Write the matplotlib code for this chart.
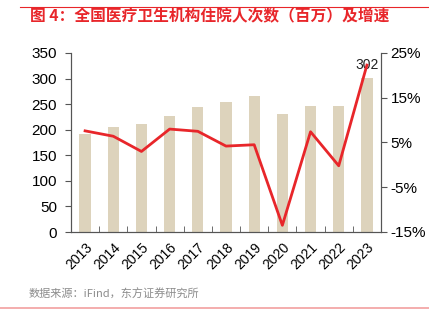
import matplotlib
matplotlib.use("Agg")
import matplotlib.pyplot as plt
from matplotlib.lines import Line2D

plt.rcParams["font.family"] = ["Liberation Sans", "Noto Sans CJK SC", "DejaVu Sans"]

# data
years = ["2013", "2014", "2015", "2016", "2017", "2018", "2019", "2020", "2021", "2022", "2023"]
inpatients = [192.2, 204.4, 210.5, 227.3, 244.4, 254.5, 266.0, 230.1, 247.3, 246.9, 301.9]
growth = [7.6, 6.4, 3.0, 8.0, 7.5, 4.2, 4.5, -13.5, 7.4, -0.2, 22.3]
left_ticks = [0, 50, 100, 150, 200, 250, 300, 350]
right_ticks = [-15, -5, 5, 15, 25]

bar_color = "#DDD3BC"
line_color = "#E8262A"

fig = plt.figure(figsize=(4.29, 3.23), dpi=100)
ax = fig.add_axes([71 / 429, 1 - 232 / 323, 310 / 429, 179 / 323])
ax2 = ax.twinx()

x = list(range(len(years)))
ax.bar(x, inpatients, width=0.4, color=bar_color, zorder=1)
ax2.plot(x, growth, color=line_color, linewidth=2, zorder=3)

# label on last bar
ax.text(x[-1], inpatients[-1] + 10, f"{round(inpatients[-1])}", ha="center", va="bottom",
        fontsize=10, color="#222222")

ax.set_xlim(-0.5, len(years) - 0.5)
ax.set_ylim(0, 350)
ax.set_yticks(left_ticks)
ax2.set_ylim(-15, 25)
ax2.set_yticks(right_ticks)
ax2.set_yticklabels([f"{t}%" for t in right_ticks])

# category labels under bars, tick marks between bars
ax.set_xticks(x)
ax.set_xticklabels(years, rotation=45, ha="right", va="top", rotation_mode="anchor", fontsize=10)
ax.set_xticks([i + 0.5 for i in x[:-1]], minor=True)
ax.tick_params(axis="x", which="major", length=0, pad=6)
ax.tick_params(axis="x", which="minor", length=4, direction="in", color="#555555")
ax.tick_params(axis="y", length=4, direction="out", labelsize=11, color="#555555", pad=6)
ax2.tick_params(axis="y", length=4, direction="out", labelsize=11, color="#555555", pad=3)

for a in (ax, ax2):
    a.spines["top"].set_visible(False)
    for s in ("left", "right", "bottom"):
        a.spines[s].set_color("#555555")
        a.spines[s].set_linewidth(0.8)
ax.set_zorder(ax2.get_zorder() - 1)
ax2.patch.set_visible(False)

# title, source and rules
fig.add_artist(Line2D([20 / 429, 1], [1 - 7 / 323] * 2, color="#E8262A", linewidth=0.8))
fig.text(30 / 429, 1 - 16 / 323, "图 4：全国医疗卫生机构住院人次数（百万）及增速",
         color="#E8262A", fontsize=11.3, fontweight="bold", va="center",
         family=["Noto Sans CJK SC", "DejaVu Sans"])
fig.text(29 / 429, 1 - 294 / 323, "数据来源：iFind，东方证券研究所", color="#8C8C8C",
         fontsize=8, va="center", family=["Noto Sans CJK SC", "DejaVu Sans"])
fig.add_artist(Line2D([0, 1], [1 - 308 / 323] * 2, color="#F2A0A0", linewidth=1.2))

fig.savefig("out.png", dpi=100)
